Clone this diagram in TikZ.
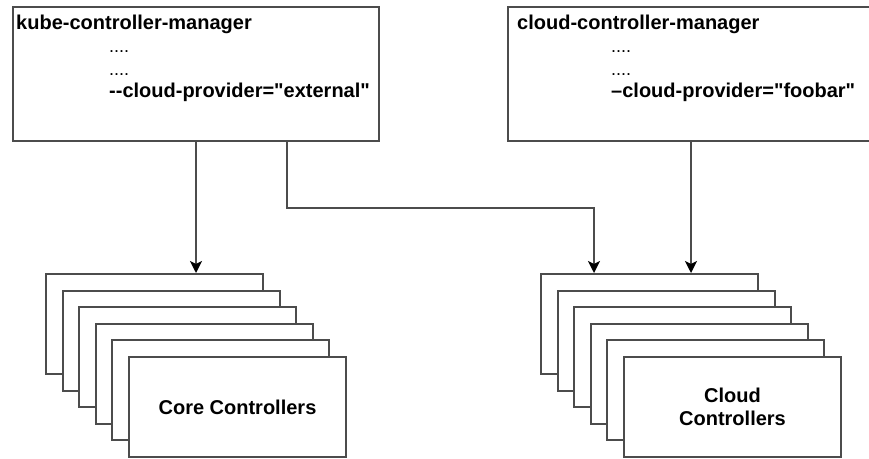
\documentclass[tikz,border=0pt]{standalone}
\usepackage{fontspec}
\newfontfamily\diafont{Liberation Sans}
\usetikzlibrary{arrows.meta}
\usetikzlibrary{positioning}

\begin{document}
\begin{tikzpicture}[x=1pt,y=-1pt,
  every node/.style={font=\diafont\bfseries\fontsize{20}{23}\selectfont},
  box/.style={draw=black!70,line width=2pt,fill=white,inner sep=0pt},
  mgr/.style={box,minimum width=366pt,minimum height=134pt},
  card/.style={box,minimum width=217pt,minimum height=100pt},
  txt/.style={anchor=base west,inner sep=0pt},
  dots/.style={txt,font=\diafont\fontsize{18}{23}\selectfont},
  arr/.style={draw=black!70,line width=2pt,-{Stealth[length=12pt,width=12pt,inset=3pt,color=black]}}]
  \useasboundingbox (0,0) rectangle (869,458);

  \node[mgr] (kcm) at (196,74) {};
  \node[mgr] (ccm) at (691,74) {};

  \node[txt] (kcmname) at ([shift={(4,23)}]kcm.north west) {kube-controller-manager};
  \node[dots] (kcmdotsa) at ([shift={(97,46)}]kcm.north west) {....};
  \node[dots] (kcmdotsb) at ([shift={(97,69)}]kcm.north west) {....};
  \node[txt] (kcmflag) at ([shift={(97,91)}]kcm.north west) {--cloud-provider="external"};

  \node[txt] (ccmname) at ([shift={(10,23)}]ccm.north west) {cloud-controller-manager};
  \node[dots] (ccmdotsa) at ([shift={(104,46)}]ccm.north west) {....};
  \node[dots] (ccmdotsb) at ([shift={(104,69)}]ccm.north west) {....};
  \node[txt] (ccmflag) at ([shift={(104,91)}]ccm.north west) {–cloud-provider="foobar"};

  % stacks of controllers
  \foreach \i in {0,...,5}{
    \node[card] (core\i) at (154.5+16.6*\i,324+16.6*\i) {};
    \node[card] (cloud\i) at (649.5+16.6*\i,324+16.6*\i) {};
  }
  \node[align=center] (corelabel) at (core5) {Core Controllers};
  \node[align=center] (cloudlabel) at (cloud5) {Cloud\\Controllers};

  \draw[arr] (kcm.south) -- (kcm.south |- core0.north);
  \draw[arr] ([xshift=91pt]kcm.south) -- ++(0,66) -| ([xshift=54pt]cloud0.north west);
  \draw[arr] (ccm.south) -- (ccm.south |- cloud0.north);
\end{tikzpicture}
\end{document}
